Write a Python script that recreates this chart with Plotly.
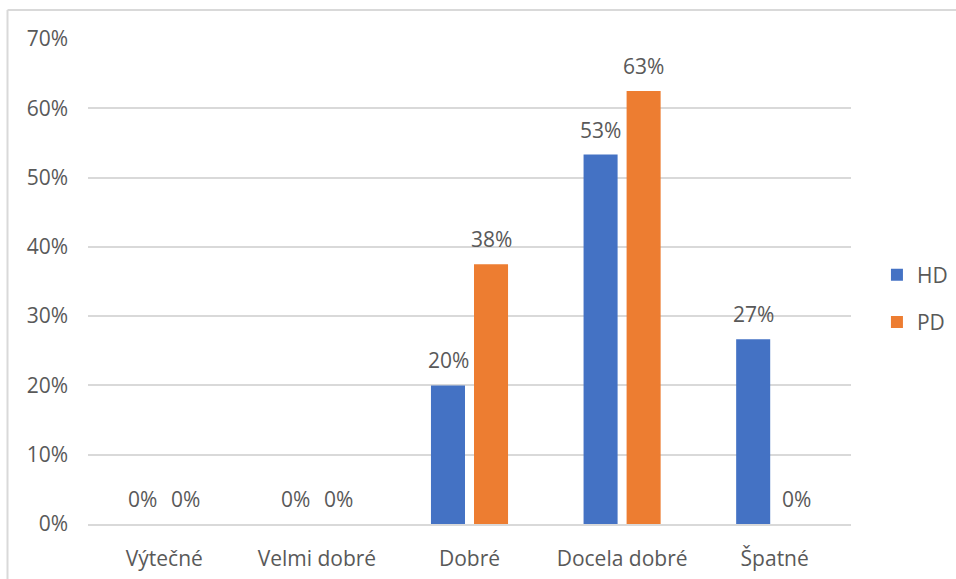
import math
import plotly.graph_objects as go

categories = ["Výtečné", "Velmi dobré", "Dobré", "Docela dobré", "Špatné"]
hd_values = [0.0, 0.0, 0.20, 0.5333, 0.2667]
pd_values = [0.0, 0.0, 0.375, 0.625, 0.0]
series_names = ["HD", "PD"]
series_colors = ["#4472C4", "#ED7D31"]
y_ticks = [0.0, 0.1, 0.2, 0.3, 0.4, 0.5, 0.6, 0.7]

FONT = "Open Sans, Segoe UI, sans-serif"
FS = 21
GRAY = "#595959"


def pct(v):
    # round half up, as spreadsheet percentage labels do
    return f"{math.floor(v * 100 + 0.5):.0f}%"


fig = go.Figure()
for name, vals, col in zip(series_names, [hd_values, pd_values], series_colors):
    fig.add_trace(go.Bar(
        x=categories, y=vals, name=name, marker_color=col,
        marker_line_width=0, legendgroup=name,
    ))

# value labels above each bar, shifted onto its bar within the group
slot_px = 43
for i, vals in enumerate([hd_values, pd_values]):
    shift = (-0.5 if i == 0 else 0.5) * slot_px
    for c, v in zip(categories, vals):
        fig.add_annotation(
            x=c, y=v, xref="x", yref="y", text=pct(v),
            showarrow=False, xshift=shift, yshift=25,
            font=dict(family=FONT, size=FS, color=GRAY),
        )

# outer frame of the chart area
fig.add_shape(type="line", xref="paper", yref="paper",
              x0=-0.1055, x1=1.2, y0=1.0598, y1=1.0598,
              line=dict(color="#d9d9d9", width=2))
fig.add_shape(type="line", xref="paper", yref="paper",
              x0=-0.1055, x1=-0.1055, y0=-0.2, y1=1.0598,
              line=dict(color="#d9d9d9", width=2))

fig.update_layout(
    width=956, height=579,
    margin=dict(l=88, r=105, t=39, b=55, autoexpand=False),
    paper_bgcolor="white", plot_bgcolor="white",
    barmode="group", bargap=0.436, bargroupgap=0.209,
    font=dict(family=FONT, size=FS, color=GRAY),
    showlegend=True,
    legend=dict(x=1.034, y=0.465, xanchor="left", yanchor="middle",
                tracegroupgap=17, font=dict(family=FONT, size=FS, color=GRAY)),
    xaxis=dict(showgrid=False, showline=True, linecolor="#d9d9d9", linewidth=1.5,
               ticks="", ticklabelstandoff=15, automargin=False,
               tickfont=dict(family=FONT, size=FS, color=GRAY)),
    yaxis=dict(range=[0, 0.7], tickvals=y_ticks, tickformat=".0%",
               showgrid=True, gridcolor="#d9d9d9", gridwidth=1.5, automargin=False,
               zeroline=False, showline=False, ticks="", ticklabelstandoff=19,
               tickfont=dict(family=FONT, size=FS, color=GRAY)),
)

fig.write_html("out.html")
